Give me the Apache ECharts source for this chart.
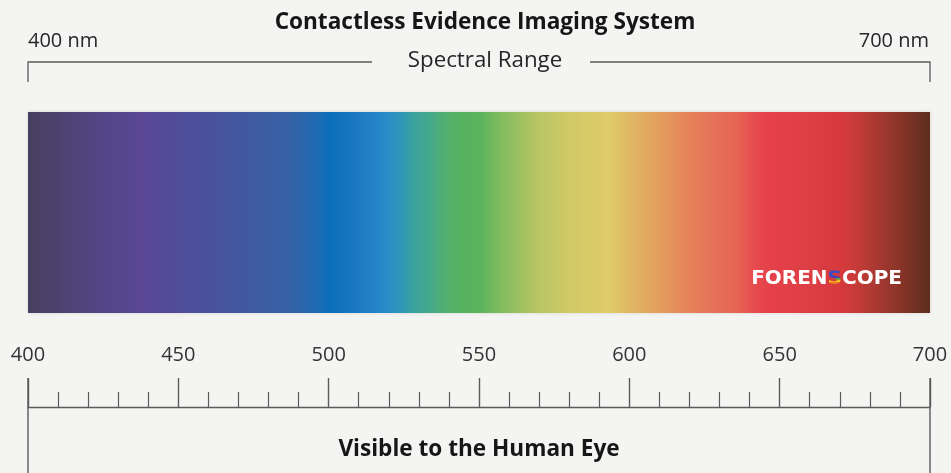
<!DOCTYPE html>
<html><head><meta charset="utf-8">
<script src="https://cdn.jsdelivr.net/npm/echarts@6/dist/echarts.min.js"></script>
<style>html,body{margin:0;padding:0;background:#f4f4f3;}#c{width:951px;height:473px;}</style>
</head><body><div id="c"></div>
<script>
// ---- data ----
const titleText = 'Contactless Evidence Imaging System';
const rangeText = 'Spectral Range';
const bottomText = 'Visible to the Human Eye';
const logoParts = ['FOREN', 'S', 'COPE'];
const rangeMin = 400;
const rangeMax = 700;
const rangeLabels = ['400 nm', '700 nm'];
const spectrumBand = [[400, 700]];
const boundaryLines = [[400], [700]];
const majorInterval = 50;
const minorSplit = 5;
const stopWavelengths = [400, 413, 424, 438, 448, 461, 475, 488, 497, 500, 509, 516, 520, 524, 528, 534, 539, 546, 550, 558, 569, 580, 593, 600, 609, 618, 629, 636, 642, 647, 658, 671, 676, 684, 691, 700];
const stopColors = ['#46405f', '#4f4373', '#524585', '#5a4796', '#514c98', '#4a529c', '#3f5aa2', '#3563a8', '#1b6db5', '#0c6fba', '#1a78c0', '#2584c8', '#2a8ec7', '#2e97b8', '#3aa19f', '#45a98a', '#51b06d', '#57b25d', '#58b45c', '#85bc5e', '#b6c564', '#d0c966', '#dfcd69', '#e0b863', '#e3a05e', '#e5875a', '#e56f57', '#e66453', '#e64a4e', '#e5404a', '#de3f45', '#d5393c', '#c43b37', '#a13830', '#853325', '#5c2e1e'];
const logoBandColors = ['#3b4cc2', '#4a3fae', '#3fae4a', '#f0c21e', '#ee7a22', '#e2342c'];
const logoBandEdges = [0, 0.3, 0.42, 0.52, 0.64, 0.8, 1];

// ---- chart ----
const chart = echarts.init(document.getElementById('c'));
const lineCol = '#5a5a5a';
const font = '"Open Sans", sans-serif';
const logoFont = 'bold 20px "DejaVu Sans", sans-serif';
const gradStops = stopWavelengths.map((w, i) => ({ offset: (w - rangeMin) / (rangeMax - rangeMin), color: stopColors[i] }));
const mctx = document.createElement('canvas').getContext('2d');
mctx.font = logoFont;
const wCope = mctx.measureText(logoParts[2]).width;
const wS = mctx.measureText(logoParts[1]).width;

chart.setOption({
  backgroundColor: '#f4f4f3',
  animation: false,
  grid: [
    { left: 28, right: 21, top: 112, height: 201 },
    { left: 28, right: 21, top: 340, bottom: 66 }
  ],
  xAxis: [
    { gridIndex: 0, type: 'value', min: rangeMin, max: rangeMax, show: false },
    {
      gridIndex: 1, type: 'value', min: rangeMin, max: rangeMax, interval: majorInterval,
      axisLine: { show: true, lineStyle: { color: lineCol, width: 1.4 } },
      axisTick: { show: true, inside: true, length: 29, lineStyle: { color: lineCol, width: 1.4 } },
      minorTick: { show: true, splitNumber: minorSplit, length: 15, lineStyle: { color: lineCol, width: 1.2 } },
      axisLabel: { inside: true, margin: 42, fontSize: 20, color: '#333', fontFamily: font, showMinLabel: true, showMaxLabel: true },
      splitLine: { show: false }, minorSplitLine: { show: false }
    }
  ],
  yAxis: [
    { gridIndex: 0, type: 'value', min: 0, max: 1, show: false },
    { gridIndex: 1, type: 'value', min: 0, max: 1, show: false }
  ],
  series: [
    {
      type: 'custom', xAxisIndex: 0, yAxisIndex: 0, data: spectrumBand, silent: true,
      renderItem: function (params, api) {
        const p0 = api.coord([api.value(0), 1]);
        const p1 = api.coord([api.value(1), 0]);
        const children = [{
          type: 'rect',
          shape: { x: p0[0], y: p0[1], width: p1[0] - p0[0], height: p1[1] - p0[1] },
          style: { fill: new echarts.graphic.LinearGradient(0, 0, 1, 0, gradStops), shadowBlur: 4, shadowColor: 'rgba(0,0,0,0.12)' }
        }];
        // bracket above
        const by = p0[1] - 50, bt = p0[1] - 30;
        const cx = 481, gap = 109;
        children.push({ type: 'polyline', shape: { points: [[p0[0], bt], [p0[0], by], [cx - gap, by]] }, style: { stroke: lineCol, lineWidth: 1.3, fill: null } });
        children.push({ type: 'polyline', shape: { points: [[cx + gap, by], [p1[0], by], [p1[0], bt]] }, style: { stroke: lineCol, lineWidth: 1.3, fill: null } });
        // logo
        const lx = p1[0] - 28, ly = p1[1] - 34;
        const sx = lx - wCope - wS;
        children.push({ type: 'text', x: lx, y: ly, style: { text: logoParts[2], font: logoFont, fill: '#fff', align: 'right', verticalAlign: 'middle' } });
        children.push({ type: 'text', x: sx, y: ly, style: { text: logoParts[0], font: logoFont, fill: '#fff', align: 'right', verticalAlign: 'middle' } });
        const capTop = ly - 8.5, capH = 18;
        for (let i = 0; i < logoBandColors.length; i++) {
          const y0 = capTop + logoBandEdges[i] * capH, y1 = capTop + logoBandEdges[i + 1] * capH;
          children.push({
            type: 'text', x: sx, y: ly,
            style: { text: logoParts[1], font: logoFont, fill: logoBandColors[i], align: 'left', verticalAlign: 'middle' },
            clipPath: { type: 'rect', shape: { x: -2, y: y0 - ly, width: wS + 4, height: y1 - y0 + (i === logoBandColors.length - 1 ? 4 : 0) + (i === 0 ? 0 : 0) } }
          });
        }
        return { type: 'group', children: children };
      }
    },
    {
      type: 'custom', xAxisIndex: 1, yAxisIndex: 1, data: boundaryLines, silent: true,
      renderItem: function (params, api) {
        const p = api.coord([api.value(0), 0]);
        return { type: 'line', shape: { x1: p[0], y1: p[1] - 29, x2: p[0], y2: api.getHeight() }, style: { stroke: lineCol, lineWidth: 1.4 } };
      }
    }
  ],
  graphic: [
    { type: 'text', z: 100, x: 485, y: 23, style: { text: titleText, font: 'bold 22.6px ' + font, fill: '#161616', align: 'center', verticalAlign: 'middle' } },
    { type: 'text', z: 100, x: 485, y: 60.5, style: { text: rangeText, font: '22.3px ' + font, fill: '#262626', align: 'center', verticalAlign: 'middle' } },
    { type: 'text', z: 100, x: 28, y: 41, style: { text: rangeLabels[0], font: '20px ' + font, fill: '#262626', align: 'left', verticalAlign: 'middle' } },
    { type: 'text', z: 100, x: 929, y: 41, style: { text: rangeLabels[1], font: '20px ' + font, fill: '#262626', align: 'right', verticalAlign: 'middle' } },
    { type: 'text', z: 100, x: 479, y: 450, style: { text: bottomText, font: 'bold 22.6px ' + font, fill: '#161616', align: 'center', verticalAlign: 'middle' } }
  ]
});
</script></body></html>
